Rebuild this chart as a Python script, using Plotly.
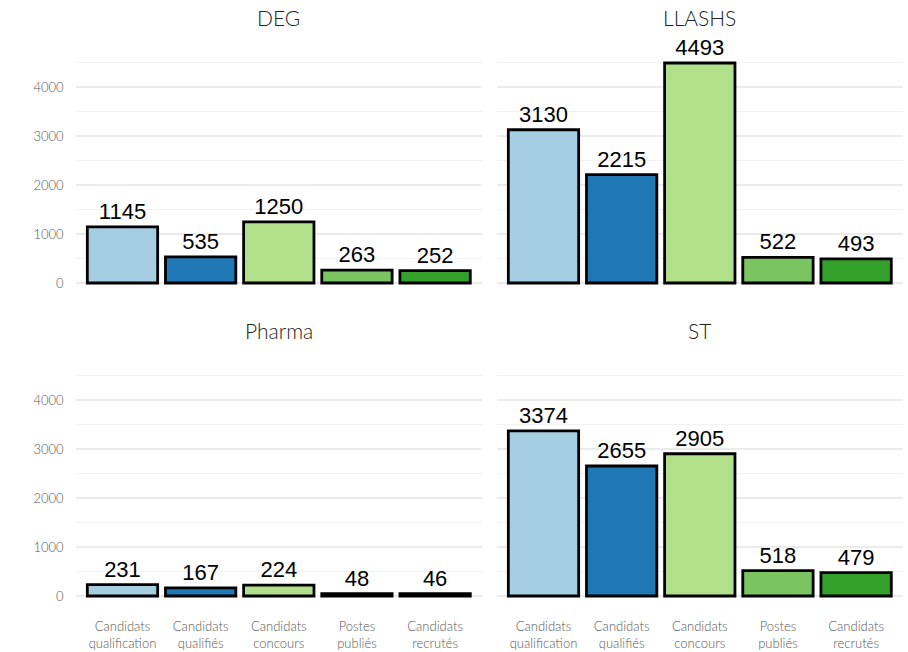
import plotly.graph_objects as go

categories = ["Candidats qualification", "Candidats qualifiés", "Candidats concours",
              "Postes publiés", "Candidats recrutés"]
tick_labels = ["Candidats<br>qualification", "Candidats<br>qualifiés", "Candidats<br>concours",
               "Postes<br>publiés", "Candidats<br>recrutés"]
panels = ["DEG", "LLASHS", "Pharma", "ST"]
deg = [1145, 535, 1250, 263, 252]
llashs = [3130, 2215, 4493, 522, 493]
pharma = [231, 167, 224, 48, 46]
st = [3374, 2655, 2905, 518, 479]
values = {"DEG": deg, "LLASHS": llashs, "Pharma": pharma, "ST": st}
colors = ["#A6CEE3", "#1F78B4", "#B2DF8A", "#7BC462", "#33A02C"]

W, H = 908, 652
# panel pixel boxes (x0, x1, ytop, ybottom)
xcols = [(75.6, 482.0), (496.6, 903.0)]
yrows = [(52.0, 294.0), (365.0, 607.0)]

fig = go.Figure()
ymax = max(max(v) for v in values.values())
yr = [-0.05 * ymax, 1.05 * ymax]

for i, p in enumerate(panels):
    r, c = divmod(i, 2)
    n = i + 1
    xa = "x" if n == 1 else f"x{n}"
    ya = "y" if n == 1 else f"y{n}"
    fig.add_trace(go.Bar(
        x=categories, y=values[p], xaxis=xa, yaxis=ya,
        marker=dict(color=colors, line=dict(color="black", width=2.8)),
        width=0.9,
        text=[str(v) for v in values[p]], textposition="outside",
        textfont=dict(family="Liberation Sans, Arial", size=22, color="black"),
        constraintext="none", cliponaxis=False, showlegend=False,
        hoverinfo="x+y",
    ))
    x0, x1 = xcols[c]
    yt, yb = yrows[r]
    xkey = "xaxis" if n == 1 else f"xaxis{n}"
    ykey = "yaxis" if n == 1 else f"yaxis{n}"
    fig.layout[xkey] = dict(
        domain=[x0 / W, x1 / W], anchor=ya, range=[-0.6, 4.6],
        type="category", categoryorder="array", categoryarray=categories,
        tickmode="array", tickvals=categories,
        ticktext=tick_labels if r == 1 else [""] * 5,
        showticklabels=(r == 1), showgrid=False, zeroline=False, showline=False,
        ticks="", ticklabelstandoff=10,
        tickfont=dict(family="Lato", size=13, color="#575757", weight=300),
    )
    fig.layout[ykey] = dict(
        domain=[1 - yb / H, 1 - yt / H], anchor=xa, range=yr,
        tickmode="array", tickvals=[0, 1000, 2000, 3000, 4000],
        showticklabels=(c == 0), showgrid=True, gridcolor="#EBEBEB", gridwidth=1.8,
        minor=dict(tickmode="array", tickvals=[500, 1500, 2500, 3500, 4500],
                   showgrid=True, gridcolor="#F2F2F2", gridwidth=1),
        zeroline=False, showline=False, ticks="", ticklabelstandoff=11,
        tickfont=dict(family="Lato", size=13, color="#575757", weight=300),
    )
    fig.add_annotation(
        text=p, xref="paper", yref="paper",
        x=(x0 + x1) / 2 / W, y=1 - (yt - 34) / H,
        showarrow=False, xanchor="center", yanchor="middle",
        font=dict(family="Lato", size=21, color="#222222", weight=300),
    )

fig.update_layout(
    width=W, height=H, margin=dict(l=0, r=0, t=0, b=0),
    paper_bgcolor="white", plot_bgcolor="white", bargap=0.1,
)
fig.write_html("out.html", config={"displayModeBar": False},
               post_script="document.body.style.margin='0';document.body.style.overflow='hidden';")
